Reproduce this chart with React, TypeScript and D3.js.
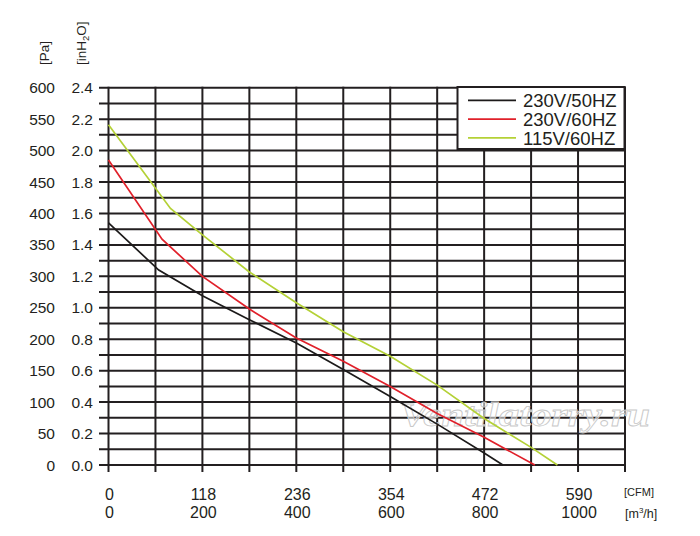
import { useEffect } from 'react';
import * as d3 from 'd3';

// Fan performance curves, airflow in m3/h vs static pressure in Pa
const seriesNames = ['230V/50HZ', '230V/60HZ', '115V/60HZ'];
const seriesColors = ['#1c1a1a', '#e0202a', '#b4d136'];

const flow50 = [0, 107, 200, 300, 400, 500, 600, 700, 800, 840];
const pressure50 = [385, 310, 269, 231, 194, 152, 109, 65, 19, 0];

const flow60 = [0, 114, 200, 300, 400, 500, 600, 700, 800, 908];
const pressure60 = [485, 359, 300, 248, 202, 165, 125, 82, 44, 0];

const flow115 = [0, 132, 200, 300, 400, 500, 600, 700, 800, 900, 956];
const pressure115 = [541, 408, 366, 307, 258, 212, 173, 127, 74, 28, 0];

const flowTicks = [0, 200, 400, 600, 800, 1000];
const cfmLabels = ['0', '118', '236', '354', '472', '590'];
const paTicks = [0, 50, 100, 150, 200, 250, 300, 350, 400, 450, 500, 550, 600];
const inH2OLabels = ['0.0', '0.2', '0.4', '0.6', '0.8', '1.0', '1.2', '1.4', '1.6', '1.8', '2.0', '2.2', '2.4'];

const FONT = '"Liberation Sans", Arial, Helvetica, sans-serif';
const GRID = '#231f20';

export default function App() {
  useEffect(() => {
    document.body.style.margin = '0';
  }, []);

  const width = 700;
  const height = 536;
  const x = d3.scaleLinear().domain([0, 1100]).range([108.5, 625]);
  const y = d3.scaleLinear().domain([0, 600]).range([465, 87.7]);

  const series = [
    flow50.map((f, i) => [f, pressure50[i]]),
    flow60.map((f, i) => [f, pressure60[i]]),
    flow115.map((f, i) => [f, pressure115[i]]),
  ];

  const line = d3
    .line<number[]>()
    .x((d) => x(d[0]))
    .y((d) => y(d[1]));

  const xGrid = d3.range(0, 1101, 100);
  const yGrid = d3.range(0, 601, 25);

  return (
    <svg width={width} height={height} style={{ display: 'block', background: '#fff' }}>
      {/* Grid */}
      <g stroke={GRID} strokeWidth={2}>
        {yGrid.map((v) => (
          <line key={'h' + v} x1={99} x2={x(1100) + 1} y1={y(v)} y2={y(v)} />
        ))}
        {xGrid.map((v) => (
          <line key={'v' + v} x1={x(v)} x2={x(v)} y1={y(600) - 1} y2={y(0) + 7} />
        ))}
      </g>

      {/* Watermark */}
      <text
        x={400}
        y={426}
        fontFamily='"Liberation Serif", "Times New Roman", serif'
        fontStyle="italic"
        fontWeight="bold"
        fontSize={34}
        textLength={250}
        lengthAdjust="spacingAndGlyphs"
        fill="#ffffff"
        fillOpacity={0.55}
        stroke="#c8c8c8"
        strokeWidth={0.8}
      >
        Ventilatorry.ru
      </text>

      {/* Curves */}
      {series.map((s, i) => (
        <path key={seriesNames[i]} d={line(s) || ''} fill="none" stroke={seriesColors[i]} strokeWidth={1.7} />
      ))}

      {/* Left axis labels */}
      <g fontFamily={FONT} fontSize={15.5} fill="#231f20" textAnchor="end">
        {paTicks.map((v, i) => (
          <g key={'pa' + v}>
            <text x={55} y={y(v) + 5.5}>{v}</text>
            <text x={93} y={y(v) + 5.5}>{inH2OLabels[i]}</text>
          </g>
        ))}
      </g>
      <g fontFamily={FONT} fontSize={13.5} fill="#231f20">
        <text transform="translate(48.5,65) rotate(-90)">[Pa]</text>
        <text transform="translate(86,65) rotate(-90)">
          [inH<tspan fontSize={9.5} dy={3}>2</tspan>
          <tspan dy={-3}>O]</tspan>
        </text>
      </g>

      {/* Bottom axis labels */}
      <g fontFamily={FONT} fontSize={16} fill="#231f20" textAnchor="middle">
        {flowTicks.map((v, i) => (
          <g key={'f' + v}>
            <text x={x(v) + 1} y={500}>{cfmLabels[i]}</text>
            <text x={x(v) + 1} y={517.5}>{v}</text>
          </g>
        ))}
      </g>
      <g fontFamily={FONT} fill="#231f20">
        <text x={624} y={495.5} fontSize={11}>[CFM]</text>
        <text x={625} y={517.5} fontSize={12.5}>
          [m<tspan fontSize={8} dy={-5}>3</tspan>
          <tspan dy={5}>/h]</tspan>
        </text>
      </g>

      {/* Legend */}
      <rect x={457.5} y={87} width={167} height={62} fill="#fff" stroke={GRID} strokeWidth={2} />
      {seriesNames.map((name, i) => {
        const base = 107 + i * 18.8;
        return (
          <g key={'lg' + name}>
            <line x1={468} x2={516} y1={base - 6.7} y2={base - 6.7} stroke={seriesColors[i]} strokeWidth={1.7} />
            <text x={523} y={base} fontFamily={FONT} fontSize={18.5} fill="#231f20">
              {name}
            </text>
          </g>
        );
      })}
    </svg>
  );
}
